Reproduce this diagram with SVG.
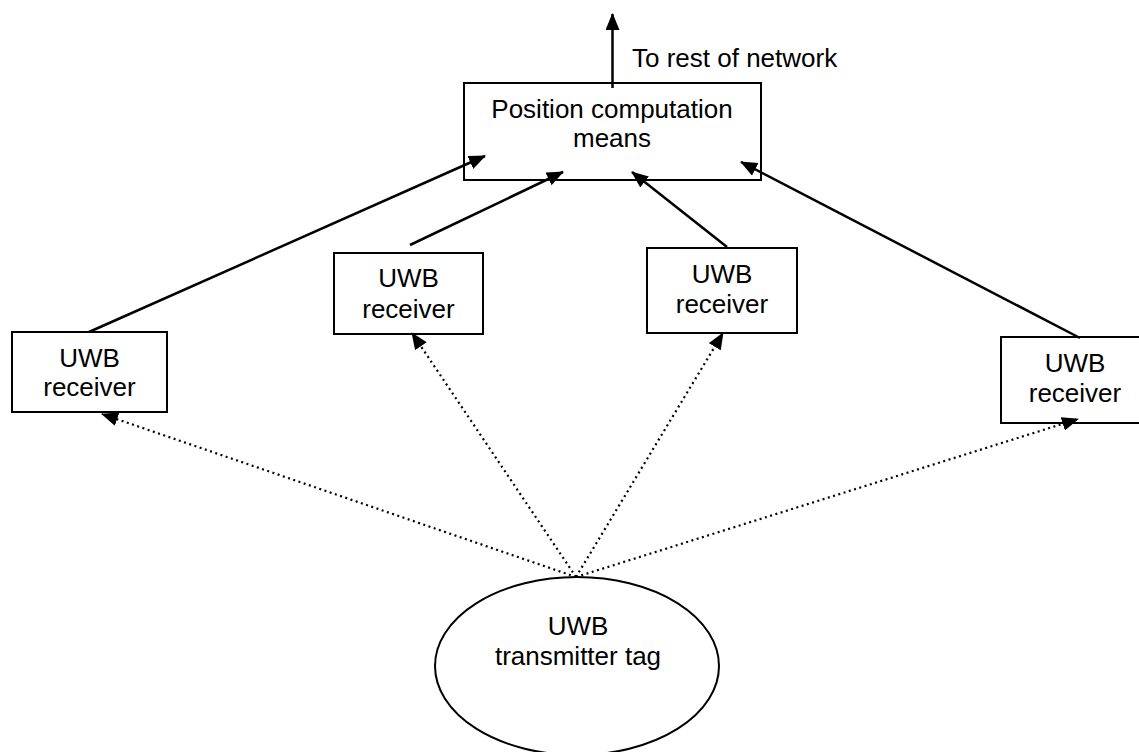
<svg xmlns="http://www.w3.org/2000/svg" width="1139" height="752" viewBox="0 0 1139 752">
  <style>
    .box { fill: #fff; stroke: #000; stroke-width: 2; }
    .lbl { font-family: "Liberation Sans", Arial, sans-serif; font-size: 26px; fill: #000; text-anchor: middle; }
    .wire { stroke: #000; stroke-width: 2.5; fill: none; }
    .radio { stroke: #000; stroke-width: 2.2; fill: none; stroke-dasharray: 2 3.5; }
  </style>
  <defs>
    <marker id="arrow" markerUnits="userSpaceOnUse" markerWidth="18" markerHeight="14" refX="16" refY="7" orient="auto">
      <path d="M0,0 L17,7 L0,14 Z" fill="#000"/>
    </marker>
  </defs>
  <rect width="1139" height="752" fill="#fff"/>

  <g id="position-computation">
    <rect class="box" x="464" y="83" width="297" height="97"/>
    <text class="lbl" x="612" y="118">Position computation</text>
    <text class="lbl" x="612" y="147">means</text>
  </g>

  <g id="receiver-1">
    <rect class="box" x="12" y="332" width="155" height="80"/>
    <text class="lbl" x="89.5" y="367">UWB</text>
    <text class="lbl" x="89.5" y="396">receiver</text>
  </g>

  <g id="receiver-2">
    <rect class="box" x="334" y="253" width="149" height="81"/>
    <text class="lbl" x="408.5" y="287">UWB</text>
    <text class="lbl" x="408.5" y="318">receiver</text>
  </g>

  <g id="receiver-3">
    <rect class="box" x="647" y="248" width="150" height="85"/>
    <text class="lbl" x="722" y="283">UWB</text>
    <text class="lbl" x="722" y="313">receiver</text>
  </g>

  <g id="receiver-4">
    <rect class="box" x="1001" y="337" width="148" height="86"/>
    <text class="lbl" x="1075" y="372">UWB</text>
    <text class="lbl" x="1075" y="402">receiver</text>
  </g>

  <g id="transmitter-tag">
    <ellipse class="box" cx="577" cy="666" rx="142" ry="89"/>
    <text class="lbl" x="578" y="635">UWB</text>
    <text class="lbl" x="578" y="665">transmitter tag</text>
  </g>

  <g id="connectors">
    <!-- uplink to the network -->
    <line class="wire" x1="612.5" y1="88" x2="612.5" y2="14" marker-end="url(#arrow)"/>
    <text class="lbl" x="632" y="67" style="text-anchor:start">To rest of network</text>
    <!-- receivers report to the position computation means -->
    <line class="wire" x1="89" y1="332" x2="485" y2="156" marker-end="url(#arrow)"/>
    <line class="wire" x1="410" y1="245" x2="563" y2="172" marker-end="url(#arrow)"/>
    <line class="wire" x1="727" y1="247" x2="632" y2="172" marker-end="url(#arrow)"/>
    <line class="wire" x1="1080" y1="338" x2="741" y2="162" marker-end="url(#arrow)"/>
    <!-- radio paths from the tag -->
    <line class="radio" x1="576" y1="577" x2="102" y2="414" marker-end="url(#arrow)"/>
    <line class="radio" x1="576" y1="577" x2="412" y2="333" marker-end="url(#arrow)"/>
    <line class="radio" x1="576" y1="577" x2="723" y2="333" marker-end="url(#arrow)"/>
    <line class="radio" x1="576" y1="577" x2="1078" y2="419" marker-end="url(#arrow)"/>
  </g>
</svg>
